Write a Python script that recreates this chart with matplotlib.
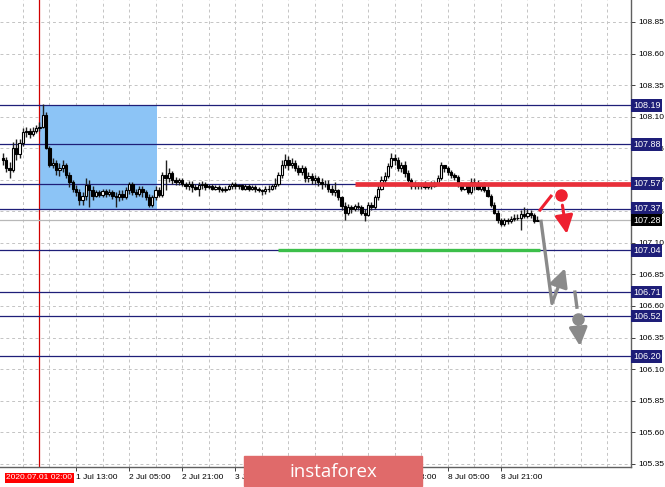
import numpy as np
import matplotlib
matplotlib.use("Agg")
import matplotlib.pyplot as plt
from matplotlib.patches import Rectangle

plt.rcParams['font.family'] = ['Liberation Sans', 'DejaVu Sans']

# hourly candles, bar 0 = 2020.06.30 15:00
first_open = 107.77
closes = [107.76, 107.69, 107.68, 107.85, 107.80, 107.89, 107.98, 107.99, 107.96, 107.99,
          108.01, 108.02, 108.11, 107.85, 107.72, 107.73, 107.68, 107.69, 107.72, 107.64,
          107.58, 107.53, 107.50, 107.44, 107.47, 107.56, 107.52, 107.47, 107.50, 107.48,
          107.51, 107.49, 107.50, 107.47, 107.46, 107.49, 107.46, 107.52, 107.57, 107.50,
          107.49, 107.53, 107.50, 107.46, 107.40, 107.46, 107.52, 107.48, 107.64, 107.61,
          107.65, 107.60, 107.58, 107.60, 107.57, 107.55, 107.57, 107.54, 107.53, 107.56,
          107.57, 107.54, 107.55, 107.53, 107.54, 107.53, 107.52, 107.53, 107.55, 107.57,
          107.55, 107.56, 107.53, 107.55, 107.53, 107.54, 107.53, 107.52, 107.51, 107.53,
          107.53, 107.55, 107.57, 107.64, 107.72, 107.76, 107.72, 107.73, 107.69, 107.66,
          107.69, 107.61, 107.63, 107.60, 107.61, 107.58, 107.57, 107.57, 107.53, 107.50,
          107.52, 107.46, 107.39, 107.34, 107.38, 107.37, 107.39, 107.38, 107.34, 107.32,
          107.40, 107.38, 107.46, 107.53, 107.60, 107.63, 107.71, 107.77, 107.76, 107.69,
          107.72, 107.65, 107.60, 107.55, 107.57, 107.55, 107.57, 107.54, 107.56, 107.55,
          107.57, 107.61, 107.72, 107.69, 107.66, 107.64, 107.62, 107.57, 107.53, 107.56,
          107.50, 107.58, 107.57, 107.53, 107.55, 107.52, 107.47, 107.40, 107.34, 107.28,
          107.25, 107.28, 107.27, 107.29, 107.30, 107.30, 107.33, 107.31, 107.34, 107.32,
          107.27, 107.28]
highs = [107.81, 107.78, 107.74, 107.90, 107.92, 107.92, 108.01, 108.02, 108.01, 108.02,
         108.03, 108.06, 108.20, 108.14, 107.87, 107.77, 107.76, 107.73, 107.76, 107.73,
         107.66, 107.60, 107.56, 107.53, 107.50, 107.61, 107.60, 107.55, 107.52, 107.52,
         107.53, 107.53, 107.53, 107.52, 107.50, 107.52, 107.52, 107.54, 107.58, 107.58,
         107.53, 107.55, 107.55, 107.52, 107.49, 107.48, 107.55, 107.54, 107.66, 107.76,
         107.69, 107.67, 107.62, 107.61, 107.61, 107.58, 107.59, 107.59, 107.57, 107.58,
         107.59, 107.58, 107.57, 107.57, 107.56, 107.56, 107.54, 107.55, 107.57, 107.58,
         107.58, 107.57, 107.57, 107.57, 107.57, 107.56, 107.56, 107.54, 107.53, 107.55,
         107.56, 107.57, 107.61, 107.66, 107.76, 107.80, 107.79, 107.77, 107.76, 107.72,
         107.72, 107.71, 107.66, 107.65, 107.64, 107.63, 107.61, 107.60, 107.60, 107.56,
         107.58, 107.53, 107.47, 107.42, 107.41, 107.40, 107.41, 107.42, 107.40, 107.37,
         107.42, 107.42, 107.48, 107.57, 107.63, 107.66, 107.73, 107.81, 107.80, 107.78,
         107.74, 107.75, 107.68, 107.61, 107.59, 107.58, 107.58, 107.59, 107.57, 107.59,
         107.59, 107.64, 107.74, 107.72, 107.71, 107.68, 107.65, 107.64, 107.58, 107.57,
         107.57, 107.61, 107.61, 107.60, 107.57, 107.58, 107.55, 107.49, 107.42, 107.36,
         107.30, 107.30, 107.30, 107.31, 107.33, 107.33, 107.36, 107.38, 107.37, 107.36,
         107.34, 107.31]
lows = [107.72, 107.66, 107.61, 107.66, 107.76, 107.77, 107.87, 107.94, 107.93, 107.95,
        107.97, 107.99, 108.01, 107.84, 107.70, 107.69, 107.64, 107.63, 107.66, 107.61,
        107.54, 107.50, 107.47, 107.40, 107.40, 107.44, 107.38, 107.44, 107.46, 107.46,
        107.46, 107.46, 107.47, 107.45, 107.38, 107.43, 107.44, 107.45, 107.49, 107.48,
        107.46, 107.47, 107.46, 107.44, 107.38, 107.38, 107.44, 107.46, 107.46, 107.52,
        107.58, 107.57, 107.56, 107.56, 107.55, 107.53, 107.52, 107.50, 107.52, 107.47,
        107.53, 107.52, 107.53, 107.52, 107.52, 107.50, 107.50, 107.50, 107.52, 107.53,
        107.53, 107.53, 107.52, 107.52, 107.51, 107.52, 107.50, 107.50, 107.48, 107.49,
        107.50, 107.52, 107.53, 107.55, 107.61, 107.69, 107.68, 107.69, 107.67, 107.64,
        107.64, 107.58, 107.58, 107.57, 107.57, 107.55, 107.53, 107.54, 107.50, 107.48,
        107.47, 107.44, 107.36, 107.28, 107.32, 107.34, 107.35, 107.36, 107.32, 107.27,
        107.31, 107.36, 107.37, 107.44, 107.52, 107.57, 107.61, 107.69, 107.72, 107.67,
        107.66, 107.62, 107.58, 107.53, 107.53, 107.53, 107.53, 107.53, 107.53, 107.53,
        107.54, 107.56, 107.60, 107.66, 107.64, 107.61, 107.60, 107.54, 107.51, 107.52,
        107.49, 107.49, 107.52, 107.52, 107.51, 107.50, 107.46, 107.38, 107.33, 107.26,
        107.23, 107.23, 107.25, 107.26, 107.27, 107.28, 107.20, 107.30, 107.30, 107.30,
        107.26, 107.27]

# levels drawn across the chart (navy) and the current price
levels = [108.19, 107.88, 107.57, 107.37, 107.04, 106.71, 106.52, 106.20]
last_price = 107.28
yticks = [108.85, 108.60, 108.35, 108.10, 107.85, 107.60, 107.35, 107.10,
          106.85, 106.60, 106.35, 106.10, 105.85, 105.60, 105.35]

# time axis
tick_bars = [-10, 22, 38, 54, 70, 86, 102, 118, 134, 150]
tick_labels = ['30 Jun 05:00', '1 Jul 13:00', '2 Jul 05:00', '2 Jul 21:00', '3 Jul 13:00',
               '6 Jul 05:00', '6 Jul 21:00', '7 Jul 13:00', '8 Jul 05:00', '8 Jul 21:00']
cursor_bar = 11
cursor_label = '2020.07.01 02:00'

# zones and drawn lines
box_bars = (11.2, 46.4)
box_prices = (107.37, 108.19)
red_level = 107.57
red_start = 106
green_level = 107.04
green_bars = (82.8, 161.8)

# forecast sketch (bar, price)
red_tick_x = [161.8, 165.1]
red_tick_y = [107.36, 107.47]
red_dot = (168.1, 107.48)
red_arrow = ((168.4, 107.42), (170.0, 107.15))
gray_path_x = [162.1, 165.4, 168.4]
gray_path_y = [107.27, 106.62, 106.83]
gray_arrow1 = ((167.6, 106.77), (169.6, 106.92))
gray_dash_x = [172.3, 172.9]
gray_dash_y = [106.71, 106.59]
gray_dot = (173.2, 106.50)
gray_arrow2 = ((173.2, 106.46), (173.9, 106.26))

navy = '#1e1e78'
x_lo, x_hi = -0.89, 189.2
head = '-|>,head_length=1.1,head_width=0.55'

fig = plt.figure(figsize=(6.65, 4.87), dpi=100)
ax = fig.add_axes([0, 20 / 487, 631 / 665, 467 / 487])

# grid
for b in np.arange(6, 190, 8):
    ax.axvline(b, color='#c4c4c4', lw=0.7, ls=(0, (3, 3)), zorder=0)
for t in yticks:
    ax.axhline(t, color='#c4c4c4', lw=0.7, ls=(0, (3, 3)), zorder=0)

ax.add_patch(Rectangle((box_bars[0], box_prices[0]), box_bars[1] - box_bars[0],
                       box_prices[1] - box_prices[0], color='#8cc4f6', lw=0, zorder=1))

ax.axvline(cursor_bar, color='#d00000', lw=0.9, zorder=2)

for lv in levels:
    ax.axhline(lv, color=navy, lw=0.9, zorder=2)
ax.axhline(last_price, color='#b8b8b8', lw=0.9, zorder=2)

# candles
closes = np.array(closes)
opens = np.concatenate([[first_open], closes[:-1]])
bars = np.arange(len(closes))
ax.vlines(bars, lows, highs, color='#202020', lw=1.0, zorder=3)
up = closes >= opens
ax.bar(bars[up], (closes - opens)[up], bottom=opens[up], width=0.7,
       color='white', edgecolor='black', lw=0.8, zorder=4)
ax.bar(bars[~up], (closes - opens)[~up], bottom=opens[~up], width=0.7,
       color='black', edgecolor='black', lw=0.8, zorder=4)

ax.plot([red_start, x_hi], [red_level, red_level], color='#e8303a', lw=3.4,
        solid_capstyle='butt', zorder=5)
ax.plot(green_bars, [green_level, green_level], color='#3cbf4a', lw=2.4,
        solid_capstyle='butt', zorder=5)

# forecast arrows
ax.plot(red_tick_x, red_tick_y, color='#ee2030', lw=2.2, zorder=6)
ax.plot(*red_dot, 'o', color='#ee2030', ms=8, zorder=6)
ax.annotate('', xy=red_arrow[1], xytext=red_arrow[0], zorder=6,
            arrowprops=dict(arrowstyle=head, color='#ee2030', lw=2.2))
ax.plot(gray_path_x, gray_path_y, color='#8a8a8a', lw=2.4, zorder=6)
ax.annotate('', xy=gray_arrow1[1], xytext=gray_arrow1[0], zorder=6,
            arrowprops=dict(arrowstyle=head, color='#8a8a8a', lw=2.4))
ax.plot(gray_dash_x, gray_dash_y, color='#8a8a8a', lw=2.4, zorder=6)
ax.plot(*gray_dot, 'o', color='#8a8a8a', ms=8, zorder=6)
ax.annotate('', xy=gray_arrow2[1], xytext=gray_arrow2[0], zorder=6,
            arrowprops=dict(arrowstyle=head, color='#8a8a8a', lw=2.4))

# axes look
for s in ['left', 'top']:
    ax.spines[s].set_visible(False)
for s in ['right', 'bottom']:
    ax.spines[s].set_color('#606060')
    ax.spines[s].set_linewidth(1.0)
ax.yaxis.tick_right()
ax.set_yticks(yticks)
ax.set_yticklabels(['%.2f' % t for t in yticks], fontsize=6)
ax.tick_params(axis='y', length=3, width=0.7, pad=2, color='#404040')
ax.set_xticks(tick_bars)
ax.set_xticklabels(tick_labels, fontsize=6, ha='left')
ax.tick_params(axis='x', length=3, width=0.7, pad=2, color='#404040')
ax.set_xlim(x_lo, x_hi)
ax.set_ylim(105.324, 109.024)

# price boxes on the right scale
ytr = ax.get_yaxis_transform()
for lv in levels:
    ax.text(1.003, lv, '%.2f' % lv, transform=ytr, fontsize=6.5, color='white',
            va='center', ha='left', zorder=10, clip_on=False,
            bbox=dict(boxstyle='square,pad=0.2', fc=navy, ec='none'))
ax.text(1.003, last_price, '%.2f' % last_price, transform=ytr, fontsize=6.5, color='white',
        va='center', ha='left', zorder=10, clip_on=False,
        bbox=dict(boxstyle='square,pad=0.2', fc='black', ec='none'))

xtr = ax.get_xaxis_transform()
ax.text(cursor_bar, -0.023, cursor_label, transform=xtr, fontsize=6, color='white',
        ha='center', va='center', zorder=10, clip_on=False,
        bbox=dict(boxstyle='square,pad=0.2', fc='#ff0000', ec='none'))

# watermark
fig.patches.append(Rectangle((244 / 665, 1 / 487), 178 / 665, 30 / 487,
                             transform=fig.transFigure, color='#e06a6a', zorder=20))
fig.text(333 / 665, 15 / 487, 'instaforex', color='white', fontsize=13.5,
         family='Open Sans', ha='center', va='center', zorder=21)

fig.savefig('out.png', dpi=100)
